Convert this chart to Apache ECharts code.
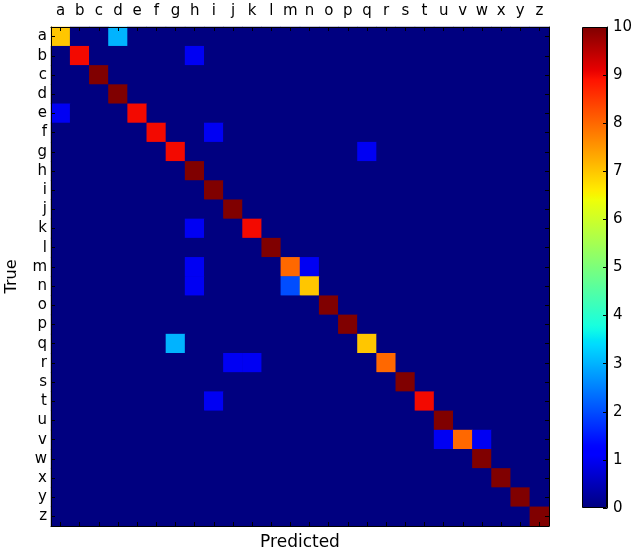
<!DOCTYPE html>
<html>
<head>
<meta charset="utf-8">
<script src="https://cdn.jsdelivr.net/npm/echarts@6/dist/echarts.min.js"></script>
<style>
  html, body { margin: 0; padding: 0; background: #fff; }
  #main { width: 635px; height: 552px; }
</style>
</head>
<body>
<div id="main"></div>
<script>
// class labels (same for true and predicted)
const letters = ['a','b','c','d','e','f','g','h','i','j','k','l','m','n','o','p','q','r','s','t','u','v','w','x','y','z'];
// counts on the diagonal, a..z
const diagonal = [7, 9, 10, 10, 9, 9, 9, 10, 10, 10, 9, 10, 8, 7, 10, 10, 7, 8, 10, 9, 10, 8, 10, 10, 10, 10];
// off-diagonal confusions: [true, predicted, count]
const confusions = [
    ['a', 'd', 3],
    ['b', 'h', 1],
    ['e', 'a', 1],
    ['f', 'i', 1],
    ['g', 'q', 1],
    ['k', 'h', 1],
    ['m', 'h', 1],
    ['m', 'n', 1],
    ['n', 'h', 1],
    ['n', 'm', 2],
    ['q', 'g', 3],
    ['r', 'j', 1],
    ['r', 'k', 1],
    ['t', 'i', 1],
    ['v', 'u', 1],
    ['v', 'w', 1]
];
const colorbarTicks = [0, 1, 2, 3, 4, 5, 6, 7, 8, 9, 10];

// matplotlib "jet" colormap
function jet(t) {
    const seg = (pts) => {
        for (let i = 1; i < pts.length; i++) {
            if (t <= pts[i][0]) {
                const a = pts[i - 1], b = pts[i];
                return a[1] + (b[1] - a[1]) * (t - a[0]) / (b[0] - a[0]);
            }
        }
        return pts[pts.length - 1][1];
    };
    const r = seg([[0, 0], [0.35, 0], [0.66, 1], [0.89, 1], [1, 0.5]]);
    const g = seg([[0, 0], [0.125, 0], [0.375, 1], [0.64, 1], [0.91, 0], [1, 0]]);
    const b = seg([[0, 0.5], [0.11, 1], [0.34, 1], [0.65, 0], [1, 0]]);
    const h = (v) => Math.round(v * 255).toString(16).padStart(2, '0');
    return '#' + h(r) + h(g) + h(b);
}
const jetColors = [];
for (let i = 0; i <= 100; i++) jetColors.push(jet(i / 100));

// build the full matrix
const cells = [];
for (let y = 0; y < letters.length; y++) {
    for (let x = 0; x < letters.length; x++) {
        cells.push([x, y, x === y ? diagonal[y] : 0]);
    }
}
confusions.forEach(([t, p, v]) => {
    const idx = letters.indexOf(t) * letters.length + letters.indexOf(p);
    cells[idx][2] = v;
});

const myChart = echarts.init(document.getElementById('main'));
const font = 'DejaVu Sans';
const tickStyle = { show: true, inside: true, length: 4, alignWithLabel: true, lineStyle: { color: '#000' } };
const lineStyle = { show: true, lineStyle: { color: '#000', width: 1 } };

const option = {
    animation: false,
    textStyle: { fontFamily: font },
    grid: [
        { left: 51, top: 27, width: 498, height: 499, outerBoundsMode: 'none',
          show: true, backgroundColor: jetColors[0], borderWidth: 0 },
        { left: 582, top: 27, width: 25, height: 481, outerBoundsMode: 'none' }
    ],
    xAxis: [
        {
            type: 'category', gridIndex: 0, data: letters, position: 'top', z: 5,
            axisLine: lineStyle, axisTick: tickStyle,
            axisLabel: { color: '#000', fontSize: 15, margin: 8, interval: 0 },
            splitLine: { show: false }
        },
        {
            type: 'category', gridIndex: 0, data: letters, position: 'bottom', z: 5,
            axisLine: lineStyle, axisTick: tickStyle, axisLabel: { show: false },
            name: 'Predicted', nameLocation: 'middle', nameGap: 8,
            nameTextStyle: { color: '#000', fontSize: 17, verticalAlign: 'top' }
        },
        {
            type: 'category', gridIndex: 1, data: [''], show: false
        }
    ],
    yAxis: [
        {
            type: 'category', gridIndex: 0, data: letters, inverse: true, position: 'left', z: 5,
            axisLine: lineStyle, axisTick: tickStyle,
            axisLabel: { color: '#000', fontSize: 15, margin: 4, interval: 0 },
            name: 'True', nameLocation: 'middle', nameGap: 31, nameRotate: 90,
            nameTextStyle: { color: '#000', fontSize: 16 }
        },
        {
            type: 'category', gridIndex: 0, data: letters, inverse: true, position: 'right', z: 5,
            axisLine: lineStyle, axisTick: tickStyle, axisLabel: { show: false }
        },
        {
            type: 'value', gridIndex: 1, min: 0, max: 10, interval: 1, position: 'right', z: 5,
            axisLine: lineStyle,
            axisTick: { show: true, inside: true, length: 4, lineStyle: { color: '#000' } },
            axisLabel: { color: '#000', fontSize: 15, margin: 6 },
            splitLine: { show: false }
        }
    ],
    visualMap: {
        show: false, type: 'continuous', min: 0, max: 10, seriesIndex: 0,
        inRange: { color: jetColors }
    },
    series: [
        {
            type: 'heatmap', xAxisIndex: 0, yAxisIndex: 0, data: cells,
            itemStyle: { borderWidth: 0 },
            emphasis: { disabled: true }
        },
        {
            type: 'bar', xAxisIndex: 2, yAxisIndex: 2, barWidth: '100%',
            data: [colorbarTicks[colorbarTicks.length - 1]],
            itemStyle: {
                color: new echarts.graphic.LinearGradient(0, 1, 0, 0,
                    jetColors.map((c, i) => ({ offset: i / 100, color: c }))),
                borderColor: '#000', borderWidth: 1
            },
            emphasis: { disabled: true }
        }
    ]
};
myChart.setOption(option);
</script>
</body>
</html>
